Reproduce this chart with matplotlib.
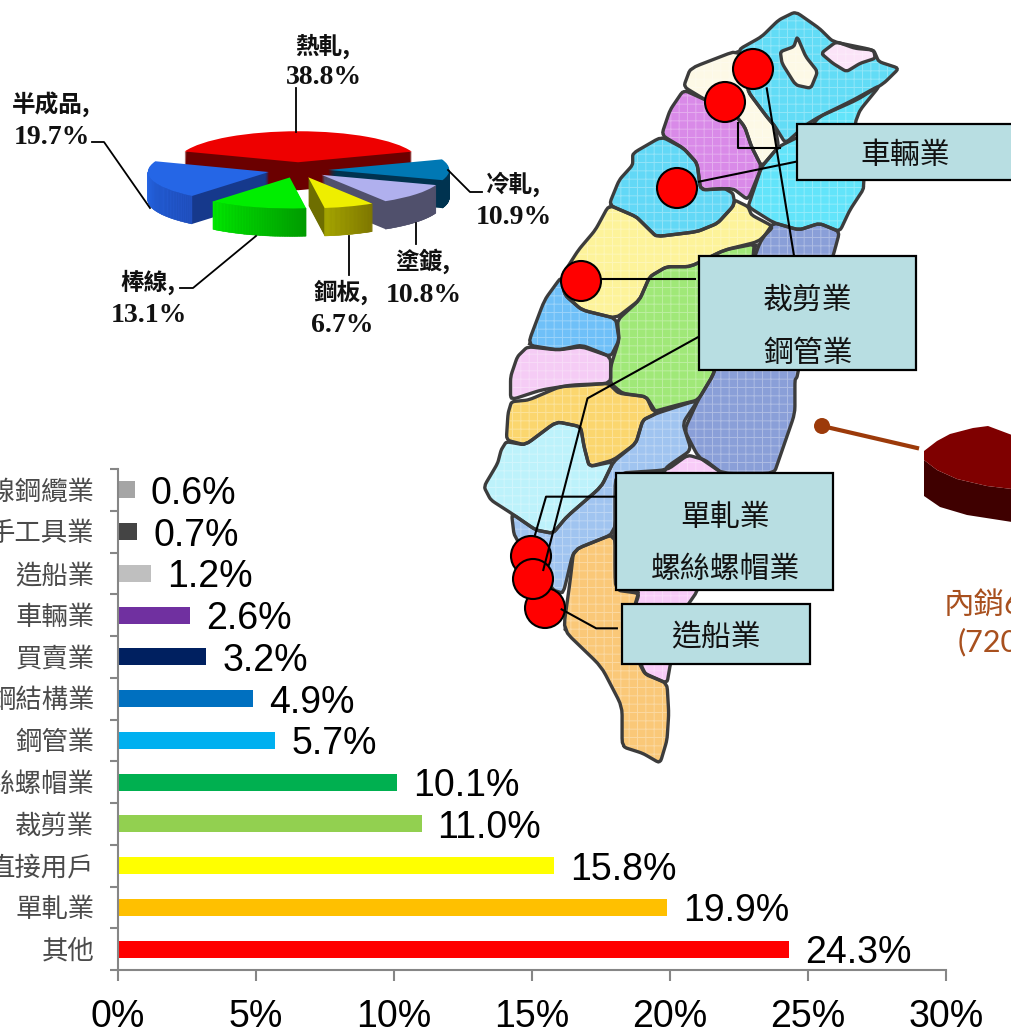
import matplotlib
matplotlib.use('Agg')
import matplotlib.pyplot as plt
import numpy as np
from matplotlib.patches import Polygon, Circle, Rectangle

W, H = 1012, 1030
CJK = 'Noto Sans CJK TC'
plt.rcParams['font.family'] = ['Liberation Sans', CJK]
plt.rcParams['hatch.linewidth'] = 0.7

# bar chart data, top to bottom
industries = ['鋼線鋼纜業', '手工具業', '造船業', '車輛業', '買賣業', '鋼結構業', '鋼管業',
              '螺絲螺帽業', '裁剪業', '直接用戶', '單軋業', '其他']
shares = [0.6, 0.7, 1.2, 2.6, 3.2, 4.9, 5.7, 10.1, 11.0, 15.8, 19.9, 24.3]
bar_colors = ['#a5a5a5', '#444444', '#bfbfbf', '#7030a0', '#002060', '#0070c0', '#00b0f0',
              '#00b050', '#92d050', '#ffff00', '#ffc000', '#ff0000']
x_ticks = [0, 5, 10, 15, 20, 25, 30]

# pie data, counterclockwise from the red slice
products = ['熱軋,', '半成品,', '棒線,', '鋼板,', '塗鍍,', '冷軋,']
product_shares = [38.8, 19.7, 13.1, 6.7, 10.8, 10.9]
pie_top = ['#ee0000', '#2566e6', '#00ee00', '#eeee00', '#b0b0ee', '#0078b4']
pie_side = ['#6b0000', '#16398c', '#00a000', '#6e6e00', '#50506c', '#003350']
rim_left = ['#6b0000', '#2566e6', '#00e800', '#a8a800', '#50506c', '#003350']
rim_right = ['#6b0000', '#2050c0', '#009c00', '#807800', '#50506c', '#003350']
pie_rank = [0, 2, 4, 5, 3, 1]


def px_axes(x0, y0, x1, y1, **kw):
    return fig.add_axes([x0 / W, 1 - y1 / H, (x1 - x0) / W, (y1 - y0) / H], **kw)


def z2(pts):
    return [(480 + x / 2.947, y / 3) for x, y in pts]


def z3(pts):
    return [(470 + x / 2.893, 380 + y / 3) for x, y in pts]


def soften(pts, n=2, f=0.12):
    # corner cutting, the map outlines are round in the picture
    p = np.array(pts, dtype=float)
    for _ in range(n):
        q = np.roll(p, -1, axis=0)
        p = np.column_stack([(1 - f) * p + f * q, f * p + (1 - f) * q]).reshape(-1, 2)
    return p


fig = plt.figure(figsize=(W / 100, H / 100), dpi=100)

# --- bars ---
ax = px_axes(118, 469, 946, 970)
ypos = np.arange(len(industries))
ax.barh(ypos, shares, height=0.41, color=bar_colors)
for y, v in zip(ypos, shares):
    ax.annotate(f'{v:.1f}%', (v, y), xytext=(11.5, 0), textcoords='offset points',
                va='center_baseline', ha='left', fontsize=27, color='black')
ax.set_xlim(0, 30)
ax.set_ylim(len(industries) - 0.5, -0.5)
ax.set_xticks(x_ticks)
ax.set_xticklabels([f'{t}%' for t in x_ticks], fontsize=27)
ax.set_yticks(ypos)
ax.set_yticklabels(industries, fontsize=19, color='#4a4a4a')
ax.set_yticks(np.append(ypos - 0.5, ypos[-1] + 0.5), minor=True)
ax.tick_params(axis='y', which='major', length=0, pad=17)
ax.tick_params(axis='y', which='minor', length=6, width=1.5, color='#868686')
ax.tick_params(axis='x', length=8, width=1.5, color='#868686', pad=13)
for s in ['top', 'right']:
    ax.spines[s].set_visible(False)
for s in ['left', 'bottom']:
    ax.spines[s].set_color('#868686')
    ax.spines[s].set_linewidth(1.5)
ax.patch.set_alpha(0)

# --- exploded pie, squashed by the axes scaling ---
rx, ry = 121, 31
pcx, pcy = 298, 170
pax = px_axes(pcx - 2 * rx, pcy - 2 * ry, pcx + 2 * rx, pcy + 3.5 * ry)
depth = 28 / ry
for i, d in enumerate(np.linspace(depth, 0, 30)):
    top = i == 29
    wedges, _ = pax.pie(product_shares, explode=[0.25] * 6, startangle=20, radius=1,
                        center=(0, -d), colors=pie_top if top else pie_side,
                        wedgeprops={'linewidth': 0})
    for k, w in enumerate(wedges):
        w.set_zorder(pie_rank[k] * 100 + i)
    if top:
        # lit outer rim of each slice
        for k, w in enumerate(wedges):
            th = np.radians(np.linspace(w.theta1, w.theta2, 60))
            th = th[np.sin(th) < 0]
            if len(th) < 2:
                continue
            c0 = np.array(matplotlib.colors.to_rgb(rim_left[k]))
            c1 = np.array(matplotlib.colors.to_rgb(rim_right[k]))
            for j in range(len(th) - 1):
                xs = w.center[0] + np.cos(th[j:j + 2])
                ys = w.center[1] + np.sin(th[j:j + 2])
                col = c0 + (c1 - c0) * j / max(len(th) - 2, 1)
                pax.fill([xs[0], xs[1], xs[1], xs[0]],
                         [ys[0], ys[1], ys[1] - depth, ys[0] - depth],
                         color=col, lw=0.3, zorder=pie_rank[k] * 100 + 28)
pax.set_aspect('auto')
pax.set_xlim(-2, 2)
pax.set_ylim(-3.5, 2)
pax.axis('off')

# --- overlay in pixel coordinates: map, callouts, labels ---
ov = px_axes(0, 0, W, H, zorder=5)
ov.set_xlim(0, W)
ov.set_ylim(H, 0)
ov.axis('off')

pie_label_pos = [(323, 45, 75), (51, 103, 134), (148, 281, 312),
                 (341, 291, 323), (423, 260, 292), (513, 183, 215)]
for name, v, (lx, y1, y2) in zip(products, product_shares, pie_label_pos):
    ov.text(lx, y1 + 1, name, ha='center', va='center', fontsize=17, fontweight='bold',
            family=[CJK, 'Liberation Serif'], color='#111111')
    ov.text(lx + 1, y2 + 3, f'{v}%', ha='center', va='center', fontsize=20, fontweight='bold',
            family='Liberation Serif', color='#111111')

pie_leaders = [[(296, 88), (296, 132)],
               [(92, 142), (104, 142), (150, 208)],
               [(448, 170), (470, 192), (482, 192)],
               [(416, 223), (416, 244)],
               [(349, 236), (349, 275)],
               [(256, 236), (193, 288), (180, 288)]]
for pts in pie_leaders:
    xs, ys = zip(*pts)
    ov.plot(xs, ys, color='black', lw=1.3)

regions = [
    ('#62dcf6', z2([(930, 35), (1000, 85), (1040, 125), (1160, 150), (1175, 185), (1235, 205), (1190, 250),
                    (1110, 300), (1000, 350), (960, 375), (900, 430), (870, 380), (845, 350), (790, 275),
                    (790, 230), (760, 150), (830, 110), (880, 60)])),
    ('#fdf9e6', z2([(935, 110), (960, 170), (995, 215), (975, 265), (930, 255), (890, 190), (885, 155), (925, 140)])),
    ('#fbe4f8', z2([(1050, 125), (1105, 145), (1160, 150), (1165, 175), (1120, 190), (1080, 215), (1040, 190), (1005, 160)])),
    ('#fdf9e6', z2([(620, 205), (760, 150), (790, 230), (790, 275), (845, 350), (870, 380), (880, 440), (830, 500),
                    (800, 440), (780, 380), (740, 330), (665, 300), (600, 260)])),
    ('#d98ae8', z2([(600, 270), (665, 300), (740, 330), (780, 380), (800, 440), (830, 500), (790, 600), (745, 565),
                    (650, 570), (640, 490), (600, 445), (535, 405), (560, 330)])),
    ('#62e4fa', z2([(1180, 255), (1120, 330), (1105, 370), (1135, 560), (1090, 630), (1060, 695), (1000, 670),
                    (940, 690), (865, 668), (790, 620), (800, 590), (830, 500), (880, 440), (960, 400), (1000, 350), (1100, 300)])),
    ('#62d8f6', z2([(535, 410), (600, 445), (640, 490), (650, 570), (720, 565), (745, 580), (750, 605), (745, 620), (700, 670),
                    (640, 695), (520, 710), (490, 680), (460, 650), (380, 615), (410, 540), (450, 495), (450, 460)])),
    ('#fdf39a', z2([(380, 615), (460, 650), (490, 680), (520, 710), (640, 695), (700, 670), (745, 620), (750, 600),
                    (790, 620), (800, 645), (865, 680), (820, 725), (720, 750), (620, 800), (550, 800), (500, 830),
                    (470, 900), (400, 955), (300, 930), (250, 885), (240, 830), (290, 750), (340, 690)])),
    ('#8a9fd8', z2([(865, 668), (940, 690), (1000, 670), (1060, 695), (1040, 770), (965, 960), (935, 1130)])
     + z3([(940, 0), (940, 100), (900, 220), (880, 280), (730, 280), (660, 230), (620, 150), (660, 60)])
     + z2([(690, 1120), (820, 740), (830, 720)])),
    ('#6fc0f8', z2([(240, 830), (250, 885), (300, 930), (400, 955), (410, 1020), (385, 1070), (300, 1040), (230, 1050),
                    (140, 1035), (190, 900)])),
    ('#a0e878', z2([(820, 730), (720, 750), (620, 800), (550, 800), (500, 830), (470, 900), (405, 960), (410, 1020),
                    (385, 1100), (385, 1150), (420, 1180)])
     + z3([(510, 50), (530, 95), (600, 75), (660, 60)]) + z2([(690, 1120)])),
    ('#f5ccf5', z2([(140, 1040), (230, 1050), (300, 1035), (385, 1070), (385, 1150), (270, 1155), (180, 1170), (90, 1200),
                    (90, 1130), (110, 1070)])),
    ('#fbd66e', z3([(120, 65), (170, 60), (260, 20), (340, 15), (400, 10), (430, 40), (510, 50), (540, 100), (500, 120), (480, 190),
                    (415, 240), (345, 260), (330, 200), (320, 140), (250, 125), (160, 195), (105, 180), (110, 100)])),
    ('#bdf2fb', z3([(105, 185), (160, 195), (250, 125), (320, 140), (330, 200), (345, 260), (415, 245), (380, 320),
                    (280, 410), (240, 460), (190, 450), (120, 400), (60, 360), (40, 320), (80, 250), (90, 210)])),
    ('#a0c4f0', z3([(660, 60), (615, 130), (640, 210), (570, 260), (560, 280), (420, 280), (420, 460), (300, 510),
                    (270, 640), (240, 630), (128, 470), (120, 400), (190, 450), (240, 460), (280, 410), (380, 320), (415, 245),
                    (480, 190), (500, 120), (540, 100)])),
    ('#f8ccf8', z3([(570, 270), (630, 225), (680, 240), (730, 280), (660, 630), (620, 690), (580, 850), (570, 910),
                    (505, 880), (490, 850), (470, 700), (490, 640), (420, 630), (420, 280)])),
    ('#fac878', z3([(420, 460), (420, 630), (490, 630), (470, 700), (500, 880), (570, 910), (575, 1000), (570, 1080),
                    (550, 1150), (500, 1120), (440, 1100), (440, 980), (380, 860), (270, 750), (290, 600), (300, 510)])),
]
# dark underlay closes the small gaps left by the corner cutting
for color, pts in regions:
    ov.add_patch(Polygon(pts, closed=True, fc='#3c3c3c', ec='none', zorder=0.5))
for color, pts in regions:
    p = soften(pts)
    ov.add_patch(Polygon(p, closed=True, fc=color, ec=(1, 1, 1, 0.3), hatch='++', lw=0, zorder=1))
    ov.add_patch(Polygon(p, closed=True, fc='none', ec='#3c3c3c', lw=2.4, joinstyle='round', zorder=2))

for cx, cy in [(753, 69), (725, 102), (677, 188), (581, 281), (531, 556), (545, 608), (533, 579)]:
    ov.add_patch(Circle((cx, cy), 20, fc='#ff0000', ec='black', lw=1.5, zorder=3))

leaders = [z2([(760, 370), (760, 443), (885, 443)]),
           z2([(645, 545), (932, 485)]),
           z2([(845, 265), (925, 765)]),
           z2([(360, 838), (635, 838)]),
           z2([(645, 1010)]) + z3([(340, 55), (212, 570)]),
           z3([(420, 350), (220, 350), (188, 465)]),
           z3([(265, 688), (365, 745), (425, 745)])]
for pts in leaders:
    xs, ys = zip(*pts)
    ov.plot(xs, ys, color='black', lw=1.5, zorder=4)

boxes = [(797, 124, 1030, 180), (699, 256, 916, 370), (616, 473, 833, 590), (622, 604, 810, 664)]
for x0, y0, x1, y1 in boxes:
    ov.add_patch(Rectangle((x0, y0), x1 - x0, y1 - y0, fc='#b8dee2', ec='black', lw=1.6, zorder=5))
box_labels = [('車輛業', 905, 152), ('裁剪業', 808, 296), ('鋼管業', 808, 349),
              ('單軋業', 725, 513), ('螺絲螺帽業', 725, 566), ('造船業', 716, 634)]
for name, lx, ly in box_labels:
    ov.text(lx, ly + 4, name, ha='center', va='center', fontsize=21.5, family=CJK, color='#111111', zorder=6)

# domestic-sales pie, cut by the right edge of the picture
side = [(924, 451), (924, 496), (940, 507), (967, 515), (1012, 522), (1012, 489), (987, 486),
        (957, 479), (937, 470), (924, 460)]
face = [(924, 451), (937, 441), (950, 434), (973, 428), (988, 426), (1012, 435), (1012, 489),
        (987, 486), (957, 479), (937, 470), (924, 460)]
ov.add_patch(Polygon(side, closed=True, fc='#3f0000', lw=0, zorder=3))
ov.add_patch(Polygon(face, closed=True, fc='#7f0000', lw=0, zorder=3))
ov.plot([822, 917], [426, 448], color='#9c3a0a', lw=3, zorder=3)
ov.add_patch(Circle((822, 426), 8, fc='#9c3a0a', lw=0, zorder=3))
ov.text(944, 606, '內銷6', ha='left', va='center', fontsize=22, color='#a8501e',
        family=['Lato', CJK], zorder=6)
ov.text(958, 642, '(720', ha='left', va='center', fontsize=22, color='#a8501e',
        family=['Lato', CJK], zorder=6)

fig.savefig('out.png', dpi=100)
